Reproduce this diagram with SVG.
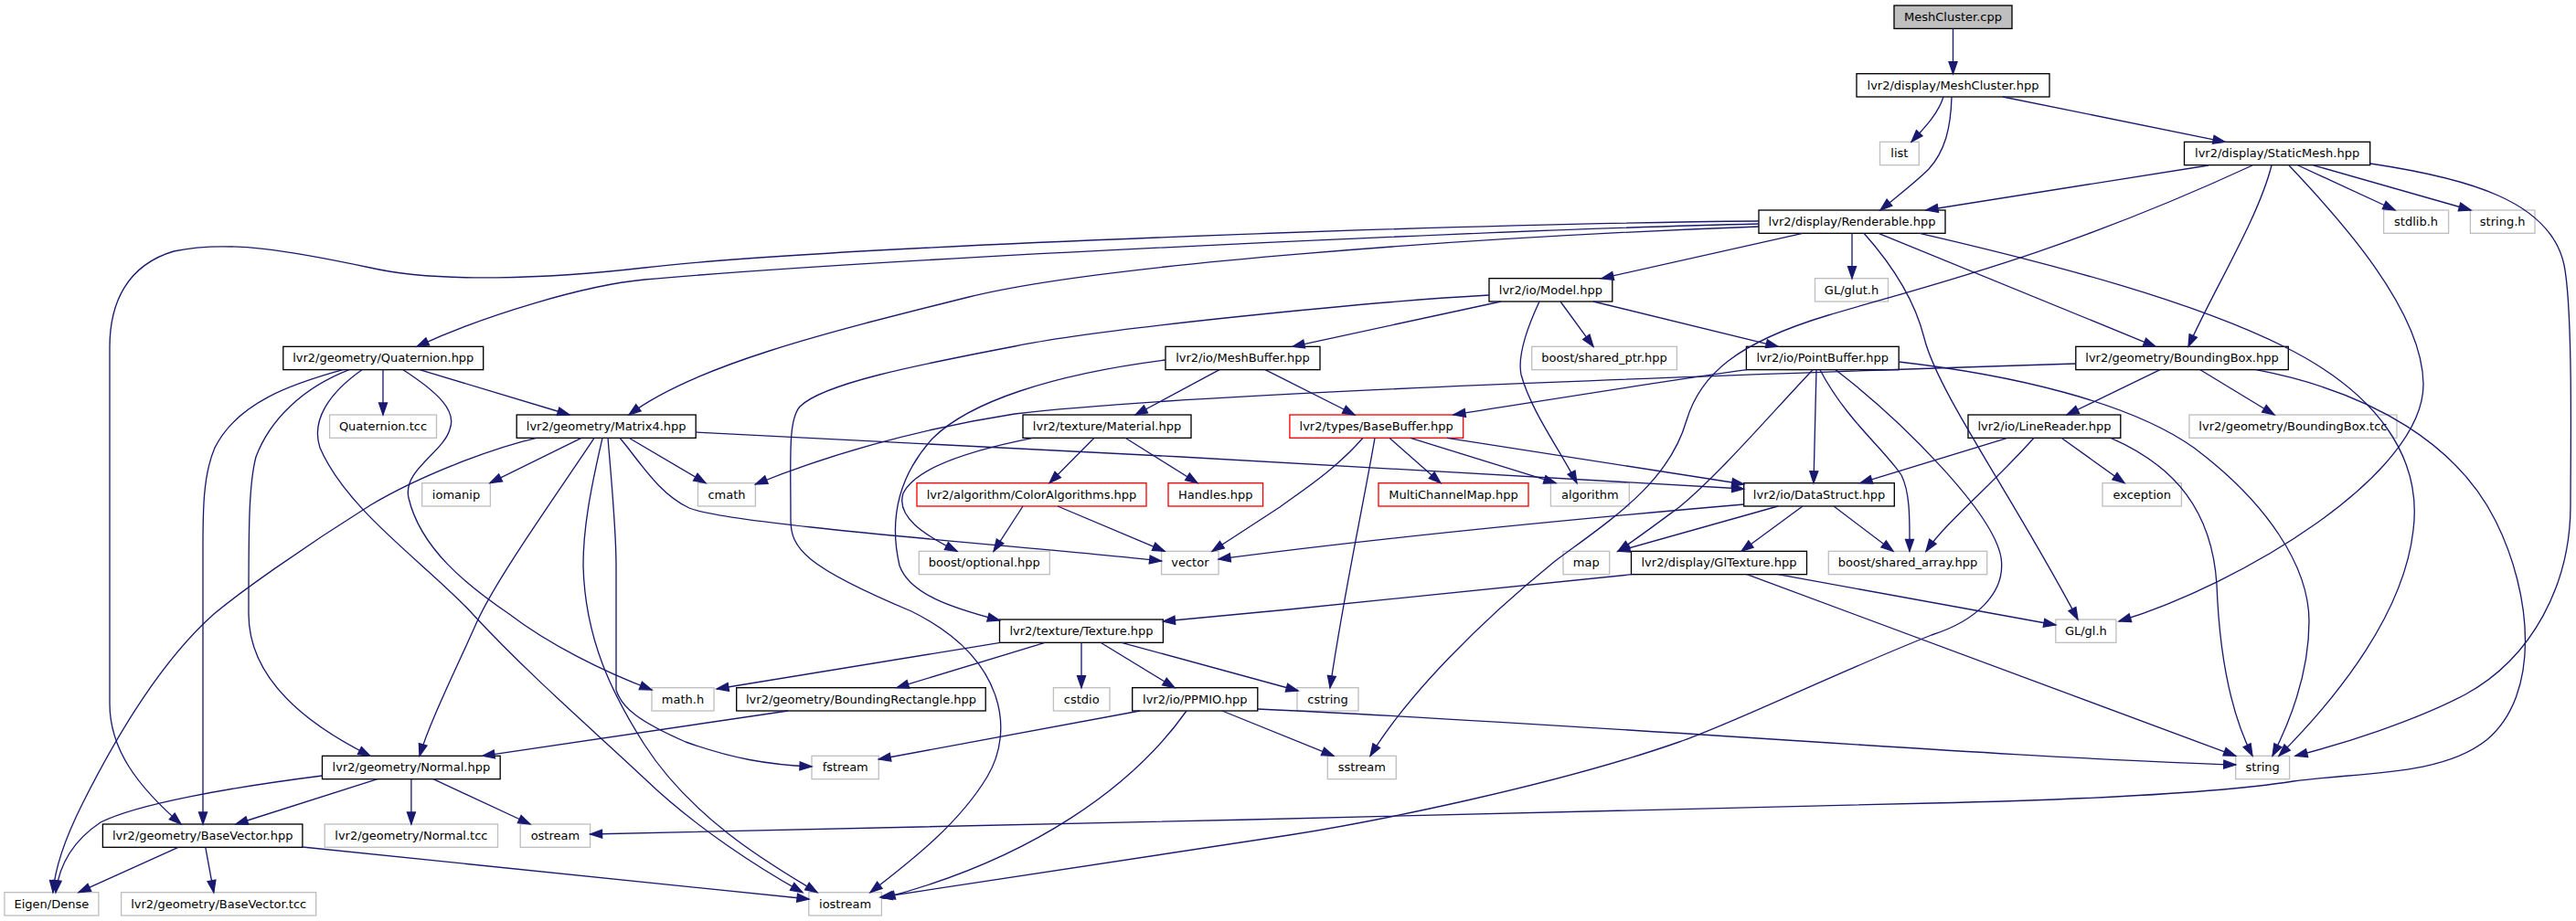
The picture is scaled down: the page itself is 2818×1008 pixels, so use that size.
<svg xmlns="http://www.w3.org/2000/svg" width="2818" height="1008" viewBox="0 0 2818 1008">
<defs>
<style>
rect{fill:#ffffff;stroke-width:1.33}
.n rect{stroke:#000000}
.e rect{stroke:#bfbfbf}
.r rect{stroke:#ff0000}
.root rect{fill:#bfbfbf;stroke:#000000}
text{font-family:"DejaVu Sans","Liberation Sans",sans-serif;font-size:13px;text-anchor:middle;fill:#000000}
#edges path{fill:none;stroke:#191970;stroke-width:1.33;marker-end:url(#ah)}
</style>
<marker id="ah" markerUnits="userSpaceOnUse" markerWidth="16" markerHeight="12" refX="13" refY="4.5" orient="auto" overflow="visible">
<path d="M0,0 L13,4.5 L0,9 Z" fill="#191970" stroke="#191970" stroke-width="1.3"/>
</marker>
</defs>
<rect x="0" y="0" width="2818" height="1008" style="fill:#ffffff;stroke:none"/>
<g id="nodes">
<g id="n_meshcluster_cpp" class="root"><rect x="2072" y="6" width="129" height="25.33"/><text x="2136.5" y="23">MeshCluster.cpp</text></g>
<g id="n_meshcluster_hpp" class="n"><rect x="2031" y="80.67" width="211" height="25.33"/><text x="2136.5" y="97.7">lvr2/display/MeshCluster.hpp</text></g>
<g id="n_list" class="e"><rect x="2056.5" y="155.33" width="42.8" height="25.33"/><text x="2077.9" y="172.3">list</text></g>
<g id="n_staticmesh" class="n"><rect x="2389.5" y="155.33" width="203.2" height="25.33"/><text x="2491.1" y="172.3">lvr2/display/StaticMesh.hpp</text></g>
<g id="n_renderable" class="n"><rect x="1924" y="230" width="204" height="25.33"/><text x="2026" y="247">lvr2/display/Renderable.hpp</text></g>
<g id="n_stdlib" class="e"><rect x="2607.6" y="230" width="71" height="25.33"/><text x="2643.1" y="247">stdlib.h</text></g>
<g id="n_string_h" class="e"><rect x="2702.4" y="230" width="70.6" height="25.33"/><text x="2737.7" y="247">string.h</text></g>
<g id="n_model" class="n"><rect x="1629" y="304.67" width="134.8" height="25.33"/><text x="1696.4" y="321.7">lvr2/io/Model.hpp</text></g>
<g id="n_glut" class="e"><rect x="1985.5" y="304.67" width="80" height="25.33"/><text x="2025.5" y="321.7">GL/glut.h</text></g>
<g id="n_quaternion" class="n"><rect x="309.8" y="379.33" width="218.9" height="25.33"/><text x="419.25" y="396.3">lvr2/geometry/Quaternion.hpp</text></g>
<g id="n_meshbuffer" class="n"><rect x="1275" y="379.33" width="169" height="25.33"/><text x="1359.5" y="396.3">lvr2/io/MeshBuffer.hpp</text></g>
<g id="n_shared_ptr" class="e"><rect x="1675.7" y="379.33" width="158.7" height="25.33"/><text x="1755" y="396.3">boost/shared_ptr.hpp</text></g>
<g id="n_pointbuffer" class="n"><rect x="1910.4" y="379.33" width="166.8" height="25.33"/><text x="1993.8" y="396.3">lvr2/io/PointBuffer.hpp</text></g>
<g id="n_boundingbox" class="n"><rect x="2270.8" y="379.33" width="232.5" height="25.33"/><text x="2387" y="396.3">lvr2/geometry/BoundingBox.hpp</text></g>
<g id="n_quaternion_tcc" class="e"><rect x="360.6" y="454" width="116.9" height="25.33"/><text x="419" y="471">Quaternion.tcc</text></g>
<g id="n_matrix4" class="n"><rect x="565.2" y="454" width="196" height="25.33"/><text x="663.2" y="471">lvr2/geometry/Matrix4.hpp</text></g>
<g id="n_material" class="n"><rect x="1119" y="454" width="184" height="25.33"/><text x="1211" y="471">lvr2/texture/Material.hpp</text></g>
<g id="n_basebuffer" class="r"><rect x="1410.9" y="454" width="189.7" height="25.33"/><text x="1505.7" y="471">lvr2/types/BaseBuffer.hpp</text></g>
<g id="n_linereader" class="n"><rect x="2153" y="454" width="166.8" height="25.33"/><text x="2236.4" y="471">lvr2/io/LineReader.hpp</text></g>
<g id="n_boundingbox_tcc" class="e"><rect x="2394.9" y="454" width="227.1" height="25.33"/><text x="2508.4" y="471">lvr2/geometry/BoundingBox.tcc</text></g>
<g id="n_iomanip" class="e"><rect x="461.7" y="528.67" width="74.7" height="25.33"/><text x="499" y="545.7">iomanip</text></g>
<g id="n_cmath" class="e"><rect x="763.5" y="528.67" width="62.9" height="25.33"/><text x="795" y="545.7">cmath</text></g>
<g id="n_coloralgorithms" class="r"><rect x="1003" y="528.67" width="251" height="25.33"/><text x="1128.5" y="545.7">lvr2/algorithm/ColorAlgorithms.hpp</text></g>
<g id="n_handles" class="r"><rect x="1278" y="528.67" width="103.6" height="25.33"/><text x="1329.8" y="545.7">Handles.hpp</text></g>
<g id="n_multichannelmap" class="r"><rect x="1508" y="528.67" width="164" height="25.33"/><text x="1590" y="545.7">MultiChannelMap.hpp</text></g>
<g id="n_algorithm" class="e"><rect x="1696.4" y="528.67" width="85.9" height="25.33"/><text x="1739.3" y="545.7">algorithm</text></g>
<g id="n_datastruct" class="n"><rect x="1907.7" y="528.67" width="164.6" height="25.33"/><text x="1990" y="545.7">lvr2/io/DataStruct.hpp</text></g>
<g id="n_exception" class="e"><rect x="2300" y="528.67" width="86.4" height="25.33"/><text x="2343.2" y="545.7">exception</text></g>
<g id="n_optional" class="e"><rect x="1005.3" y="603.33" width="143" height="25.33"/><text x="1076.8" y="620.3">boost/optional.hpp</text></g>
<g id="n_vector" class="e"><rect x="1270.6" y="603.33" width="62.5" height="25.33"/><text x="1301.9" y="620.3">vector</text></g>
<g id="n_map" class="e"><rect x="1710" y="603.33" width="50.7" height="25.33"/><text x="1735.3" y="620.3">map</text></g>
<g id="n_gltexture" class="n"><rect x="1784.5" y="603.33" width="192" height="25.33"/><text x="1880.5" y="620.3">lvr2/display/GlTexture.hpp</text></g>
<g id="n_shared_array" class="e"><rect x="2000.3" y="603.33" width="173.4" height="25.33"/><text x="2087" y="620.3">boost/shared_array.hpp</text></g>
<g id="n_texture" class="n"><rect x="1093.5" y="678" width="178.9" height="25.33"/><text x="1183" y="695">lvr2/texture/Texture.hpp</text></g>
<g id="n_gl" class="e"><rect x="2248.8" y="678" width="66.1" height="25.33"/><text x="2281.9" y="695">GL/gl.h</text></g>
<g id="n_math" class="e"><rect x="713" y="752.67" width="68" height="25.33"/><text x="747" y="769.7">math.h</text></g>
<g id="n_boundingrectangle" class="n"><rect x="805.7" y="752.67" width="272.5" height="25.33"/><text x="942" y="769.7">lvr2/geometry/BoundingRectangle.hpp</text></g>
<g id="n_cstdio" class="e"><rect x="1152.4" y="752.67" width="61.6" height="25.33"/><text x="1183.2" y="769.7">cstdio</text></g>
<g id="n_ppmio" class="n"><rect x="1238.7" y="752.67" width="137.1" height="25.33"/><text x="1307.3" y="769.7">lvr2/io/PPMIO.hpp</text></g>
<g id="n_cstring" class="e"><rect x="1419" y="752.67" width="67" height="25.33"/><text x="1452.5" y="769.7">cstring</text></g>
<g id="n_normal" class="n"><rect x="352.5" y="827.33" width="194.7" height="25.33"/><text x="449.9" y="844.3">lvr2/geometry/Normal.hpp</text></g>
<g id="n_fstream" class="e"><rect x="888" y="827.33" width="73.3" height="25.33"/><text x="924.7" y="844.3">fstream</text></g>
<g id="n_sstream" class="e"><rect x="1452.3" y="827.33" width="75" height="25.33"/><text x="1489.8" y="844.3">sstream</text></g>
<g id="n_string" class="e"><rect x="2445.7" y="827.33" width="58.9" height="25.33"/><text x="2475.2" y="844.3">string</text></g>
<g id="n_basevector" class="n"><rect x="112.4" y="902" width="218.5" height="25.33"/><text x="221.7" y="919">lvr2/geometry/BaseVector.hpp</text></g>
<g id="n_normal_tcc" class="e"><rect x="355.2" y="902" width="189.3" height="25.33"/><text x="449.9" y="919">lvr2/geometry/Normal.tcc</text></g>
<g id="n_ostream" class="e"><rect x="569.2" y="902" width="76.4" height="25.33"/><text x="607.4" y="919">ostream</text></g>
<g id="n_eigen" class="e"><rect x="4.9" y="976.67" width="103" height="25.33"/><text x="56.4" y="993.7">Eigen/Dense</text></g>
<g id="n_basevector_tcc" class="e"><rect x="132.6" y="976.67" width="213.1" height="25.33"/><text x="239.2" y="993.7">lvr2/geometry/BaseVector.tcc</text></g>
<g id="n_iostream" class="e"><rect x="884.8" y="976.67" width="79.6" height="25.33"/><text x="924.6" y="993.7">iostream</text></g>
</g>
<g id="edges">
<path d="M2136.5,31.3 L2136.5,80.7"/>
<path d="M2126,106 C2120,125 2105,140 2091,155.3"/>
<path d="M2135,106 C2134,140 2128,165 2110,185 C2095,200 2075,215 2057,230"/>
<path d="M2191,106 L2434,155.3"/>
<path d="M2416,181 L2107,230"/>
<path d="M2514,181 L2620,230"/>
<path d="M2531,181 L2703,230"/>
<path d="M2485,181 C2470,240 2420,320 2394,379.3"/>
<path d="M2504,181 C2560,240 2650,340 2651,420 C2652,520 2450,640 2318,680"/>
<path d="M2593,179 C2700,195 2790,220 2805,290 C2815,340 2812,500 2812,553 C2812,640 2770,720 2697,760 C2640,790 2560,815 2511,827.3"/>
<path d="M2464,181 C2250,280 2100,315 2000,345 C1900,375 1860,410 1845,460 C1825,530 1760,570 1700,615 C1620,680 1540,760 1499,827.3"/>
<path d="M1972,255.3 L1752,304.7"/>
<path d="M2026,255.3 L2026,304.7"/>
<path d="M2055,255.3 L2358,379.3"/>
<path d="M2100,255.3 C2250,290 2400,330 2500,380 C2600,430 2650,500 2640,580 C2630,670 2560,760 2493,827.3"/>
<path d="M2039,255.3 C2070,290 2095,330 2105,370 C2120,430 2200,540 2273,678"/>
<path d="M1924,245 C1700,250 1000,280 705,306 C640,312 530,345 456,379.3"/>
<path d="M1924,248 C1600,260 1200,290 1060,325 C900,365 760,400 688,454"/>
<path d="M1924,242 C1600,245 900,270 705,293 C600,305 480,310 405,293 C320,275 250,262 190,275 C140,290 120,330 120,380 L120,770 C120,820 150,860 198,902"/>
<path d="M1642,330 L1414,379.3"/>
<path d="M1684,330 C1670,360 1660,390 1664,410 C1675,450 1705,490 1725,528.7"/>
<path d="M1707,330 L1743,379.3"/>
<path d="M1743,330 L1945,379.3"/>
<path d="M1629,323 C1500,330 1200,360 1110,379 C1000,400 900,420 875,445 C862,460 865,500 865,569 C865,600 880,620 997,669 C1100,720 1110,800 1080,850 C1050,900 1000,940 952,976.7"/>
<path d="M419,404.7 L419,454"/>
<path d="M459,404.7 L623,454"/>
<path d="M375,404.7 C320,420 260,440 235,490 C222,520 222,560 222,600 L222,902"/>
<path d="M382,404.7 C330,425 295,460 280,500 C272,530 272,580 272,672 C272,740 330,790 405,827.3"/>
<path d="M396,404.7 C360,430 340,460 350,490 C380,560 470,620 517,672 C580,740 650,800 705,852 C760,905 830,950 878,976.7"/>
<path d="M441,404.7 C480,430 500,450 492,470 C485,495 440,515 447,545 C460,600 510,640 557,672 C600,705 660,735 713,755"/>
<path d="M636,479.3 L536,528.7"/>
<path d="M650,479.3 C610,540 545,630 522,680 C500,730 470,790 459,827.3"/>
<path d="M659,479.3 C645,540 638,580 638,619 C640,700 670,760 705,815 C760,900 850,950 894,976.7"/>
<path d="M665,479.3 C670,540 674,580 674,619 L674,755 C680,775 700,790 750,812 C800,830 840,837 888,839"/>
<path d="M688,479.3 L772,528.7"/>
<path d="M678,479.3 C700,505 720,540 754,556 C800,575 1150,600 1270.6,614"/>
<path d="M587,479.3 C540,490 460,520 405,553 C330,600 260,650 234,672 C180,720 130,800 90,880 C70,920 60,950 58,976.7"/>
<path d="M761,473 C1100,490 1600,515 1907.7,535"/>
<path d="M1334,404.7 L1242,454"/>
<path d="M1384,404.7 L1482,454"/>
<path d="M1275,394 C1150,410 1060,440 1020,480 C975,530 975,580 984,619 C995,650 1040,665 1093.5,679"/>
<path d="M1197,479.3 L1148,528.7"/>
<path d="M1231,479.3 L1310,528.7"/>
<path d="M1130,479.3 C1050,495 1000,515 988,540 C980,565 1010,585 1047,603.3"/>
<path d="M1119,554 L1087,603.3"/>
<path d="M1157,554 L1274,603.3"/>
<path d="M1491,479.3 C1460,515 1420,540 1400,555 L1326,603.3"/>
<path d="M1504,479.3 C1490,560 1470,650 1455,752.7"/>
<path d="M1520,479.3 L1576,528.7"/>
<path d="M1543,479.3 L1702,528.7"/>
<path d="M1583,479.3 L1907.7,530"/>
<path d="M1911,404.7 C1800,420 1680,440 1590,454"/>
<path d="M1983,404.7 C1940,450 1880,520 1837,555 C1810,575 1790,590 1770,603.3"/>
<path d="M1987,404.7 L1984,528.7"/>
<path d="M1991,404.7 C2020,460 2060,490 2080,520 C2090,540 2089,570 2089,603.3"/>
<path d="M2008,404.7 C2080,460 2180,560 2189,610 C2195,650 2160,680 2113,695 C2000,740 1900,790 1837,812 C1700,860 1500,900 1410,914 C1200,945 1050,970 963,982"/>
<path d="M2077,396 C2200,410 2330,440 2400,490 C2480,550 2526,620 2526,680 C2526,730 2510,780 2486,827.3"/>
<path d="M2363,404.7 L2261,454"/>
<path d="M2407,404.7 L2488,454"/>
<path d="M2270.8,398 C1900,410 1300,430 1110,453 C1000,470 900,500 826.4,530"/>
<path d="M2468,404.7 C2600,430 2690,490 2730,570 C2770,650 2780,760 2720,810 C2670,850 2580,845 2509,855 C2400,872 2200,877 2113,879 C1800,888 1000,905 645.6,913"/>
<path d="M2196,479.3 L2035,528.7"/>
<path d="M2225,479.3 C2180,530 2130,570 2107,603.3"/>
<path d="M2255,479.3 L2324,528.7"/>
<path d="M2309,479.3 C2380,510 2420,560 2425,640 C2428,720 2440,780 2464,827.3"/>
<path d="M1907.7,552 C1700,570 1500,590 1333,612"/>
<path d="M1945,554 L1770,603.3"/>
<path d="M1972,554 L1905,603.3"/>
<path d="M2006,554 L2071,603.3"/>
<path d="M1785,628.7 L1410,667 L1272.4,680"/>
<path d="M1945,628.7 L2248.8,684"/>
<path d="M1911,628.7 L2445.7,827.3"/>
<path d="M1094,703.3 L784,754"/>
<path d="M1143,703.3 L981,752.7"/>
<path d="M1183,703.3 L1183,752.7"/>
<path d="M1204,703.3 L1285,752.7"/>
<path d="M1227,703.3 L1420,756"/>
<path d="M1247,778 L961.3,831"/>
<path d="M1298,778 C1240,860 1130,940 966,983"/>
<path d="M1337,778 L1459,827.3"/>
<path d="M1375.8,776 C1700,790 2200,830 2445.7,837"/>
<path d="M862,778 L528,827.3"/>
<path d="M352.5,849 C250,862 150,880 110,900 C80,920 65,945 61,976.7"/>
<path d="M413,852.7 L258,902"/>
<path d="M449.9,852.7 L449.9,902"/>
<path d="M474,852.7 L580,902"/>
<path d="M195,927.3 L86,976.7"/>
<path d="M224.8,927.3 L233.8,976.7"/>
<path d="M330.9,927 L885,984"/>
</g>
</svg>
